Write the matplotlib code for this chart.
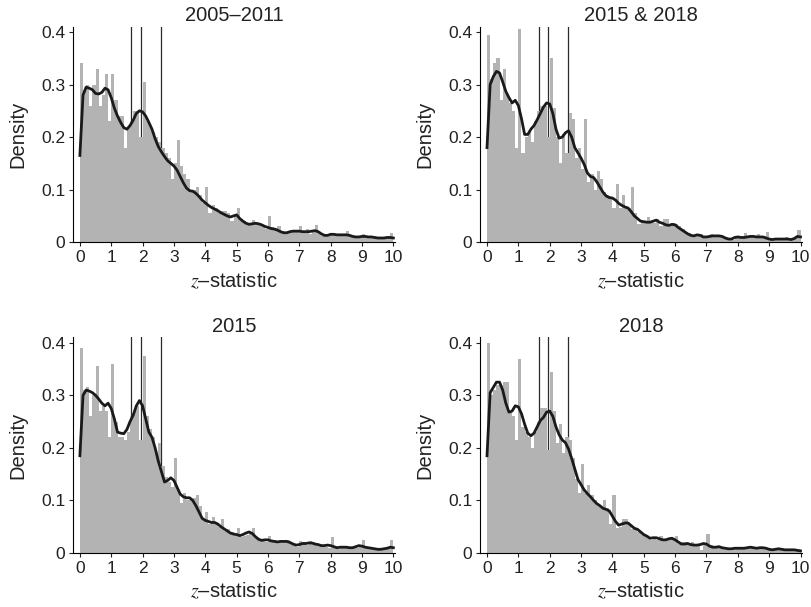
import numpy as np
import matplotlib.pyplot as plt

plt.rcParams['font.family'] = ['Liberation Sans', 'DejaVu Sans']
plt.rcParams['mathtext.fontset'] = 'stix'

# histogram bins: 0.0-0.1, 0.1-0.2, ..., 9.9-10.0
bin_edges = np.round(np.arange(0, 10.0, 0.1), 1)
# kde evaluated at 0.0, 0.1, ..., 10.0
kde_x = np.round(np.arange(0, 10.01, 0.1), 1)

titles = ['2005\u20132011', '2015 & 2018', '2015', '2018']
crit_values = [1.645, 1.96, 2.576]

hist_0511 = [
    0.34, 0.29, 0.30, 0.26, 0.30, 0.33, 0.26, 0.28, 0.32, 0.23,
    0.32, 0.27, 0.24, 0.24, 0.18, 0.22, 0.23, 0.25, 0.25, 0.20,
    0.305, 0.23, 0.22, 0.21, 0.20, 0.19, 0.18, 0.17, 0.16, 0.12,
    0.15, 0.195, 0.145, 0.13, 0.12, 0.095, 0.10, 0.105, 0.09, 0.075,
    0.105, 0.055, 0.07, 0.065, 0.055, 0.06, 0.06, 0.055, 0.04, 0.05,
    0.065, 0.045, 0.04, 0.033, 0.035, 0.042, 0.035, 0.035, 0.033, 0.025,
    0.05, 0.028, 0.027, 0.03, 0.022, 0.018, 0.02, 0.022, 0.02, 0.022,
    0.03, 0.02, 0.025, 0.015, 0.02, 0.032, 0.02, 0.012, 0.015, 0.013,
    0.018, 0.015, 0.015, 0.012, 0.013, 0.022, 0.012, 0.01, 0.012, 0.01,
    0.015, 0.01, 0.01, 0.008, 0.01, 0.009, 0.008, 0.009, 0.01, 0.017,
]
kde_0511 = [
    0.165, 0.28, 0.295, 0.293, 0.29, 0.283, 0.282, 0.285, 0.293, 0.29,
    0.275, 0.255, 0.24, 0.228, 0.218, 0.215, 0.222, 0.232, 0.245, 0.25,
    0.248, 0.24, 0.228, 0.215, 0.197, 0.182, 0.172, 0.163, 0.155, 0.15,
    0.145, 0.137, 0.125, 0.113, 0.103, 0.098, 0.097, 0.093, 0.087, 0.08,
    0.075, 0.07, 0.066, 0.063, 0.06, 0.056, 0.053, 0.05, 0.048, 0.05,
    0.052, 0.045, 0.04, 0.036, 0.034, 0.035, 0.036, 0.035, 0.033, 0.03,
    0.028, 0.026, 0.025, 0.023, 0.02, 0.018, 0.018, 0.02, 0.021, 0.021,
    0.021, 0.02, 0.02, 0.02, 0.021, 0.022, 0.02, 0.016, 0.013, 0.013,
    0.015, 0.015, 0.014, 0.014, 0.014, 0.014, 0.013, 0.011, 0.01, 0.01,
    0.011, 0.011, 0.01, 0.01, 0.009, 0.008, 0.008, 0.008, 0.009, 0.009,
    0.008,
]

hist_1518 = [
    0.395, 0.31, 0.34, 0.35, 0.27, 0.33, 0.28, 0.265, 0.25, 0.18,
    0.405, 0.17, 0.20, 0.21, 0.19, 0.23, 0.25, 0.26, 0.26, 0.20,
    0.35, 0.255, 0.20, 0.15, 0.205, 0.17, 0.245, 0.235, 0.16, 0.18,
    0.14, 0.235, 0.115, 0.13, 0.10, 0.135, 0.12, 0.095, 0.09, 0.085,
    0.065, 0.11, 0.065, 0.09, 0.065, 0.065, 0.105, 0.055, 0.035, 0.04,
    0.04, 0.048, 0.038, 0.036, 0.045, 0.03, 0.045, 0.044, 0.03, 0.036,
    0.035, 0.03, 0.025, 0.02, 0.018, 0.01, 0.012, 0.016, 0.015, 0.008,
    0.012, 0.015, 0.012, 0.013, 0.014, 0.012, 0.01, 0.006, 0.004, 0.008,
    0.01, 0.01, 0.017, 0.01, 0.012, 0.011, 0.015, 0.01, 0.012, 0.02,
    0.006, 0.005, 0.007, 0.008, 0.006, 0.009, 0.004, 0.006, 0.01, 0.024,
]
kde_1518 = [
    0.18, 0.30, 0.315, 0.325, 0.322, 0.305, 0.287, 0.275, 0.265, 0.27,
    0.26, 0.235, 0.205, 0.205, 0.215, 0.222, 0.233, 0.245, 0.257, 0.265,
    0.263, 0.245, 0.215, 0.198, 0.20, 0.208, 0.212, 0.20, 0.18, 0.17,
    0.16, 0.148, 0.132, 0.125, 0.123, 0.115, 0.105, 0.095, 0.088, 0.085,
    0.084, 0.08, 0.074, 0.07, 0.067, 0.065, 0.058, 0.05, 0.045, 0.04,
    0.039, 0.038, 0.038, 0.04, 0.042, 0.038, 0.036, 0.033, 0.032, 0.034,
    0.033, 0.028, 0.024, 0.02, 0.016, 0.013, 0.012, 0.014, 0.013, 0.01,
    0.01, 0.011, 0.012, 0.012, 0.012, 0.011, 0.008, 0.006, 0.006, 0.009,
    0.01, 0.009, 0.009, 0.01, 0.011, 0.011, 0.01, 0.01, 0.01, 0.008,
    0.006, 0.005, 0.006, 0.006, 0.006, 0.006, 0.006, 0.005, 0.007, 0.011,
    0.01,
]

hist_2015 = [
    0.39, 0.31, 0.315, 0.26, 0.30, 0.355, 0.27, 0.28, 0.27, 0.22,
    0.36, 0.25, 0.22, 0.22, 0.215, 0.23, 0.26, 0.27, 0.28, 0.215,
    0.375, 0.26, 0.235, 0.22, 0.19, 0.21, 0.165, 0.145, 0.135, 0.125,
    0.18, 0.12, 0.095, 0.115, 0.10, 0.10, 0.105, 0.11, 0.09, 0.065,
    0.078, 0.055, 0.068, 0.055, 0.05, 0.065, 0.042, 0.045, 0.04, 0.035,
    0.047, 0.03, 0.033, 0.035, 0.04, 0.048, 0.03, 0.025, 0.022, 0.02,
    0.032, 0.022, 0.025, 0.022, 0.02, 0.022, 0.025, 0.02, 0.015, 0.012,
    0.022, 0.02, 0.015, 0.022, 0.02, 0.015, 0.017, 0.013, 0.012, 0.01,
    0.03, 0.01, 0.008, 0.012, 0.01, 0.01, 0.012, 0.01, 0.01, 0.012,
    0.025, 0.012, 0.01, 0.01, 0.008, 0.007, 0.006, 0.008, 0.01, 0.024,
]
kde_2015 = [
    0.185, 0.30, 0.31, 0.308, 0.305, 0.30, 0.293, 0.285, 0.28, 0.285,
    0.275, 0.255, 0.23, 0.228, 0.227, 0.235, 0.25, 0.262, 0.28, 0.29,
    0.28, 0.255, 0.23, 0.22, 0.20, 0.175, 0.155, 0.135, 0.138, 0.143,
    0.138, 0.125, 0.112, 0.107, 0.105, 0.105, 0.10, 0.09, 0.078, 0.066,
    0.062, 0.06, 0.058, 0.058, 0.055, 0.05, 0.046, 0.042, 0.038, 0.036,
    0.035, 0.033, 0.035, 0.038, 0.04, 0.037, 0.031, 0.026, 0.024, 0.025,
    0.025, 0.023, 0.022, 0.021, 0.022, 0.022, 0.022, 0.02, 0.017, 0.015,
    0.016, 0.018, 0.018, 0.019, 0.019, 0.017, 0.016, 0.014, 0.014, 0.015,
    0.014, 0.012, 0.01, 0.011, 0.011, 0.011, 0.01, 0.01, 0.012, 0.014,
    0.013, 0.011, 0.01, 0.009, 0.008, 0.007, 0.007, 0.008, 0.009, 0.011,
    0.01,
]

hist_2018 = [
    0.40, 0.30, 0.31, 0.32, 0.32, 0.325, 0.325, 0.27, 0.26, 0.215,
    0.37, 0.24, 0.23, 0.22, 0.20, 0.23, 0.25, 0.275, 0.275, 0.195,
    0.345, 0.27, 0.21, 0.245, 0.19, 0.22, 0.215, 0.18, 0.14, 0.115,
    0.17, 0.115, 0.13, 0.11, 0.10, 0.09, 0.085, 0.10, 0.085, 0.055,
    0.11, 0.048, 0.05, 0.065, 0.065, 0.055, 0.045, 0.045, 0.04, 0.035,
    0.033, 0.028, 0.025, 0.028, 0.025, 0.033, 0.025, 0.025, 0.028, 0.025,
    0.032, 0.018, 0.02, 0.021, 0.015, 0.02, 0.015, 0.013, 0.005, 0.015,
    0.037, 0.015, 0.012, 0.01, 0.013, 0.01, 0.01, 0.008, 0.009, 0.009,
    0.008, 0.01, 0.01, 0.009, 0.01, 0.012, 0.01, 0.008, 0.01, 0.008,
    0.007, 0.006, 0.008, 0.007, 0.006, 0.006, 0.005, 0.006, 0.005, 0.006,
]
kde_2018 = [
    0.185, 0.305, 0.315, 0.325, 0.325, 0.31, 0.285, 0.268, 0.27, 0.28,
    0.278, 0.265, 0.245, 0.228, 0.223, 0.228, 0.24, 0.252, 0.258, 0.268,
    0.27, 0.26, 0.24, 0.225, 0.215, 0.21, 0.198, 0.18, 0.16, 0.14,
    0.13, 0.12, 0.113, 0.107, 0.10, 0.094, 0.09, 0.085, 0.083, 0.08,
    0.07, 0.06, 0.053, 0.055, 0.057, 0.057, 0.052, 0.047, 0.045, 0.04,
    0.035, 0.032, 0.028, 0.029, 0.029, 0.027, 0.025, 0.025, 0.027, 0.028,
    0.025, 0.021, 0.017, 0.017, 0.018, 0.016, 0.015, 0.015, 0.016, 0.018,
    0.017, 0.013, 0.011, 0.011, 0.012, 0.01, 0.009, 0.008, 0.008, 0.009,
    0.009, 0.009, 0.009, 0.01, 0.011, 0.01, 0.009, 0.01, 0.01, 0.009,
    0.007, 0.006, 0.007, 0.008, 0.007, 0.006, 0.006, 0.006, 0.006, 0.005,
    0.004,
]

hists = [hist_0511, hist_1518, hist_2015, hist_2018]
kdes = [kde_0511, kde_1518, kde_2015, kde_2018]

fig = plt.figure(figsize=(8.11, 6.07), dpi=100)
# [left, bottom, width, height] for each panel
boxes = [
    [0.090, 0.601, 0.397, 0.355],
    [0.592, 0.601, 0.397, 0.355],
    [0.090, 0.089, 0.397, 0.355],
    [0.592, 0.089, 0.397, 0.355],
]

for box, title, h, k in zip(boxes, titles, hists, kdes):
    ax = fig.add_axes(box)
    for c in crit_values:
        ax.axvline(c, color='#2a2a2a', lw=0.9, zorder=1)
    ax.bar(bin_edges, h, width=0.1, align='edge', color='#b3b3b3',
           edgecolor='none', zorder=2)
    ax.plot(kde_x, k, color='#1a1a1a', lw=2.0, zorder=3)

    ax.set_xlim(-0.22, 10.05)
    ax.set_ylim(0, 0.41)
    ax.set_xticks(range(0, 11))
    ax.set_yticks([0, 0.1, 0.2, 0.3, 0.4])
    ax.set_yticklabels(['0', '0.1', '0.2', '0.3', '0.4'])
    ax.spines['top'].set_visible(False)
    ax.spines['right'].set_visible(False)
    ax.spines['left'].set_bounds(0, 0.41)
    ax.spines['bottom'].set_bounds(-0.22, 10.05)
    ax.tick_params(direction='out', length=3, width=0.8, labelsize=12.5,
                   colors='#222222')
    ax.tick_params(axis='x', pad=2.5)
    ax.tick_params(axis='y', pad=2.5)
    ax.set_title(title, fontsize=14.5, pad=4, color='#222222')
    ax.set_ylabel('Density', fontsize=14.5, labelpad=10, color='#222222')
    ax.set_xlabel('$z$\u2013statistic', fontsize=14.5, labelpad=4, color='#222222')

fig.savefig('out.png', dpi=100)
